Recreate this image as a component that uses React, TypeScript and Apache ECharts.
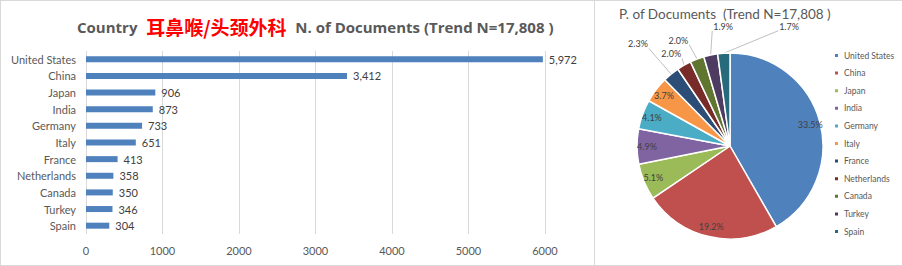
import React, { useEffect, useRef } from "react";
import * as echarts from "echarts";

const countries = ["United States", "China", "Japan", "India", "Germany", "Italy", "France", "Netherlands", "Canada", "Turkey", "Spain"];
const docs = [5972, 3412, 906, 873, 733, 651, 413, 358, 350, 346, 304];
const totalN = 17808;
const xTicks = [0, 1000, 2000, 3000, 4000, 5000, 6000];
const palette = ["#4F81BD", "#C0504D", "#9BBB59", "#8064A2", "#4BACC6", "#F79646", "#2C4D75", "#772C2A", "#5F7530", "#4D3B62", "#276A7C"];
const insideCount = 6;

const FONT = "Lato, 'Noto Sans', sans-serif";
const GRAY = "#595959";

// label nudges (dx, dy) for the outside pie labels, by data index
const labelNudge: Record<number, [number, number]> = {
  6: [12, -27],
  7: [27, -6],
  8: [30, -7],
  9: [60, -10],
  10: [88, 1],
};

export default function App() {
  const ref = useRef<HTMLDivElement>(null);
  useEffect(() => {
    if (!ref.current) return;
    const chart = echarts.init(ref.current, null, { renderer: "svg" });
    const pct = (v: number) => ((v / totalN) * 100).toFixed(1) + "%";
    const outsideLen = [14, 6, 20, 26, 28];
    const outsideLen2 = [10, 6, 6, 6, 6];
    chart.setOption({
      animation: false,
      backgroundColor: "#fff",
      textStyle: { fontFamily: FONT },
      title: [
        {
          left: 72,
          top: 12,
          text: "{a|Country}  {b|耳鼻喉/头颈外科}  {a|N. of Documents (Trend N=17,808 )}",
          textStyle: {
            rich: {
              a: { fontSize: 15, fontWeight: "bold", color: GRAY, fontFamily: "'Open Sans', sans-serif" },
              b: { fontSize: 19, fontWeight: "bold", color: "#FF0000", fontFamily: "'Noto Sans CJK SC', sans-serif" },
            },
          },
        },
        {
          left: 614,
          top: 1,
          text: "P. of Documents  (Trend N=17,808 )",
          textStyle: { fontSize: 13.5, lineHeight: 16, fontWeight: "normal", color: GRAY, fontFamily: FONT },
        },
      ],
      grid: { left: 86, right: 357, top: 51, bottom: 32, containLabel: false },
      xAxis: {
        type: "value",
        min: xTicks[0],
        max: xTicks[xTicks.length - 1],
        interval: 1000,
        axisLine: { show: false },
        axisTick: { show: false },
        splitLine: { lineStyle: { color: "#d9d9d9", width: 1 } },
        axisLabel: { color: GRAY, fontSize: 11, margin: 11, fontFamily: FONT, formatter: (v: number) => String(v) },
      },
      yAxis: {
        type: "category",
        inverse: true,
        data: countries,
        axisLine: { show: false },
        axisTick: { show: false },
        axisLabel: { color: GRAY, fontSize: 11, margin: 10, fontFamily: FONT },
      },
      legend: {
        orient: "vertical",
        left: 833,
        top: 51,
        height: 212,
        padding: 0,
        icon: "rect",
        itemWidth: 5,
        itemHeight: 5,
        itemGap: 8.6,
        data: countries,
        textStyle: { fontSize: 8.5, color: GRAY, fontFamily: FONT },
      },
      series: [
        {
          type: "bar",
          data: docs,
          barWidth: 6,
          itemStyle: { color: "#4F81BD" },
          label: {
            show: true,
            position: "right",
            distance: 6,
            color: "#404040",
            fontSize: 11,
            fontFamily: FONT,
            formatter: (p: any) => Number(p.value).toLocaleString("en-US"),
          },
        },
        {
          type: "pie",
          name: "main",
          center: [730, 146],
          radius: [0, 93],
          startAngle: 90,
          clockwise: true,
          avoidLabelOverlap: true,
          itemStyle: { borderColor: "#fff", borderWidth: 1.5 },
          labelLayout: (p: any) => {
            const off = labelNudge[p.dataIndex];
            if (!off) return {};
            const r = p.labelRect;
            const pts = p.labelLinePoints;
            if (!r || !pts || !pts.length) return { dx: off[0], dy: off[1] };
            const nx = r.x + off[0];
            const ny = r.y + off[1];
            const s = pts[0];
            const tx = Math.min(Math.max(s[0], nx - 1), nx + r.width + 1);
            const ty = Math.min(Math.max(s[1], ny), ny + r.height);
            const mid = [(s[0] + tx) / 2, (s[1] + ty) / 2];
            return { dx: off[0], dy: off[1], labelLinePoints: [s, mid, [tx, ty]] };
          },
          data: countries.map((c, i) => ({
            name: c,
            value: docs[i],
            itemStyle: { color: palette[i] },
            label:
              i < insideCount
                ? { show: false }
                : { show: true, position: "outside", fontSize: 9, color: "#404040", formatter: () => pct(docs[i]) },
            labelLine:
              i < insideCount
                ? { show: false }
                : {
                    show: true,
                    length: outsideLen[i - insideCount],
                    length2: outsideLen2[i - insideCount],
                    lineStyle: { color: "#bfbfbf", width: 1 },
                  },
          })),
        },
        {
          type: "pie",
          name: "labels",
          center: [730, 146],
          radius: [67, 93],
          startAngle: 90,
          clockwise: true,
          silent: true,
          legendHoverLink: false,
          itemStyle: { color: "rgba(0,0,0,0)", borderWidth: 0 },
          emphasis: { disabled: true },
          data: countries.map((c, i) => ({
            name: c,
            value: docs[i],
            label:
              i < insideCount
                ? { show: true, position: "inside", fontSize: 9, color: "#404040", formatter: () => pct(docs[i]) }
                : { show: false },
            labelLine: { show: false },
          })),
        },
      ],
      graphic: [
        { type: "line", shape: { x1: 0, y1: 0.5, x2: 902, y2: 0.5 }, style: { stroke: "#d9d9d9", lineWidth: 1 } },
        { type: "line", shape: { x1: 0.5, y1: 0, x2: 0.5, y2: 266 }, style: { stroke: "#d9d9d9", lineWidth: 1 } },
        { type: "line", shape: { x1: 0, y1: 265.5, x2: 902, y2: 265.5 }, style: { stroke: "#d9d9d9", lineWidth: 1 } },
        { type: "line", shape: { x1: 594.5, y1: 0, x2: 594.5, y2: 266 }, style: { stroke: "#d9d9d9", lineWidth: 1 } },
      ],
    });
    return () => chart.dispose();
  }, []);
  return (
    <div
      ref={ref}
      style={{ position: "absolute", left: 0, top: 0, width: 902, height: 266, background: "#fff" }}
    />
  );
}
